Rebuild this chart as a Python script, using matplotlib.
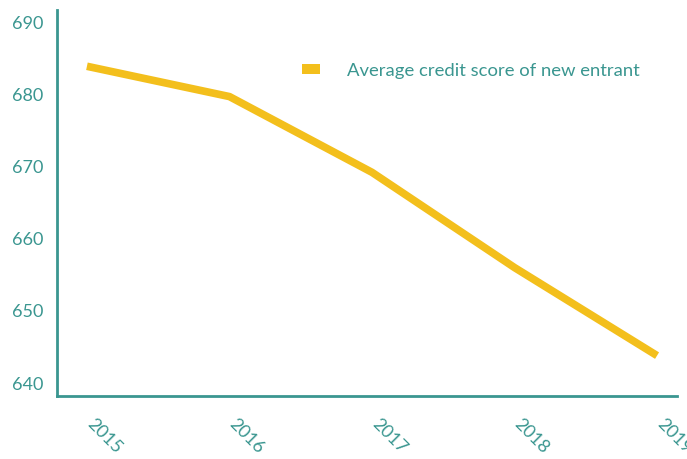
import matplotlib
matplotlib.use("Agg")
import matplotlib.pyplot as plt
import matplotlib.transforms as mtransforms
from matplotlib.patches import Patch

years = [2015, 2016, 2017, 2018, 2019]
scores = [683.9, 679.7, 669.2, 656.0, 643.8]
yticks = [640, 650, 660, 670, 680, 690]
series_label = "Average credit score of new entrant"

teal = "#3a9690"
gold = "#f3bf1c"

plt.rcParams['font.family'] = ['Lato', 'DejaVu Sans']

fig = plt.figure(figsize=(6.87, 4.59), dpi=100)
ax = fig.add_axes([57/687, 1 - 396/459, (677-57)/687, (396-10)/459])

ax.plot(years, scores, color=gold, linewidth=5.5, solid_capstyle='butt')
ax.set_xlim(2014.79, 2019.14)
ax.set_ylim(638.2, 691.7)
ax.set_yticks(yticks)
ax.set_xticks(years)
ax.set_xticklabels([str(y) for y in years], rotation=-45, ha='left', va='top',
                   rotation_mode='anchor')
ax.tick_params(axis='both', length=0, colors=teal, labelsize=13)
ax.tick_params(axis='y', pad=10)
ax.tick_params(axis='x', pad=16)
offset = mtransforms.ScaledTranslation(8/100, 2/100, fig.dpi_scale_trans)
for lbl in ax.get_xticklabels():
    lbl.set_transform(lbl.get_transform() + offset)
for s in ['top', 'right']:
    ax.spines[s].set_visible(False)
for s in ['left', 'bottom']:
    ax.spines[s].set_color(teal)
    ax.spines[s].set_linewidth(2)

handle = Patch(facecolor=gold, edgecolor='none')
leg = ax.legend([handle], [series_label], loc='upper left',
                bbox_to_anchor=((285-57)/620, 1 - (46-10)/386), frameon=False,
                fontsize=13.3, handlelength=1.0, handleheight=0.45, handletextpad=1.45)
for t in leg.get_texts():
    t.set_color(teal)

fig.savefig("out.png", dpi=100)
